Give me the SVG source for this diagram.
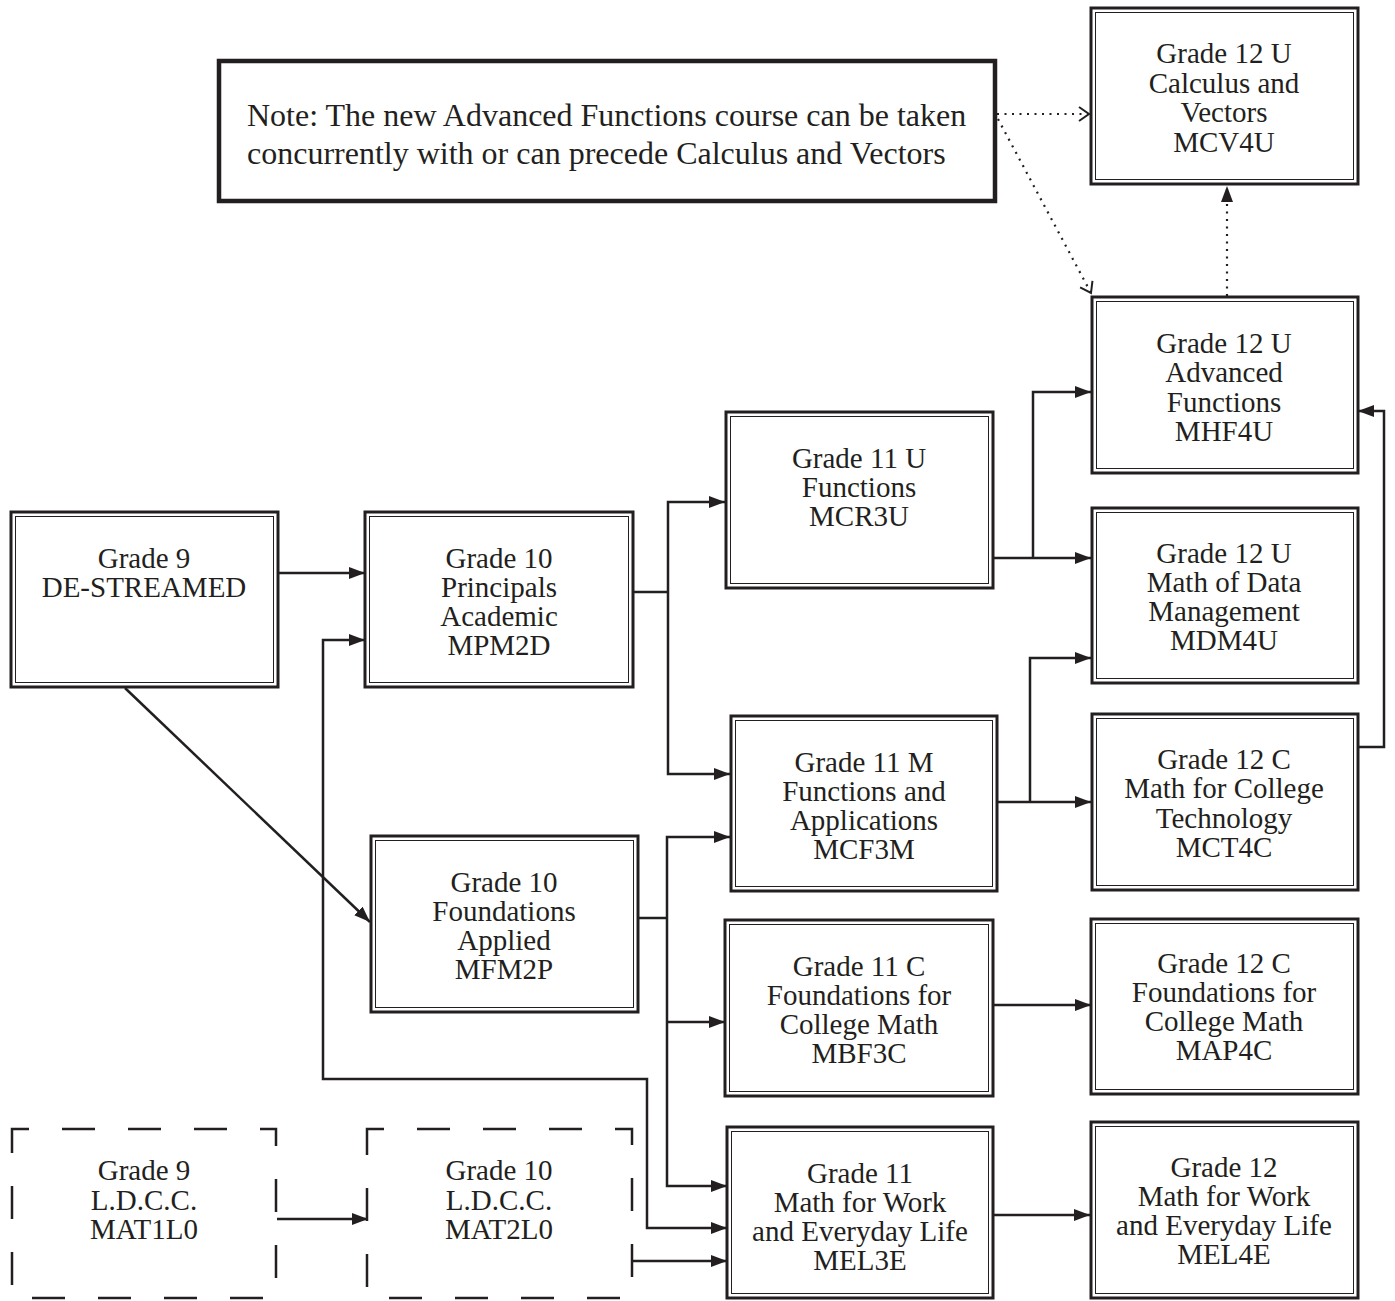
<svg xmlns="http://www.w3.org/2000/svg" width="1395" height="1301" viewBox="0 0 1395 1301">
<style>
.o{fill:#fff;stroke:#231f20;stroke-width:3}
.i{fill:none;stroke:#231f20;stroke-width:1}
.d{fill:#fff;stroke:#231f20;stroke-width:2.5;stroke-dasharray:33 33;stroke-dashoffset:16}
.n{fill:#fff;stroke:#231f20;stroke-width:4.5}
text{font-family:"Liberation Serif","Times New Roman",serif;font-size:29px;fill:#231f20;text-anchor:middle}
.note{text-anchor:start;font-size:32px}
.c{fill:none;stroke:#231f20;stroke-width:2.5}
.dot{fill:none;stroke:#231f20;stroke-width:2.2;stroke-dasharray:2 5.5}
</style>
<defs>
<marker id="a" markerUnits="userSpaceOnUse" markerWidth="17" markerHeight="13" refX="16" refY="6" orient="auto-start-reverse"><path d="M0,0 L16,6 L0,12 z" fill="#231f20"/></marker>
<marker id="v" markerUnits="userSpaceOnUse" markerWidth="14" markerHeight="18" refX="11" refY="8" orient="auto"><path d="M1,1 L11,8 L1,15" fill="none" stroke="#231f20" stroke-width="2"/></marker>
</defs>

<g id="connectors">
<path class="c" d="M278,573 H365" marker-end="url(#a)"/>
<path class="c" d="M125,688 L370,922" marker-end="url(#a)"/>
<path class="c" d="M365,640 H323 V1079 H647 V1228 H727" marker-start="url(#a)" marker-end="url(#a)"/>
<path class="c" d="M633,592 H668"/>
<path class="c" d="M725,502 H668 V774 H730" marker-start="url(#a)" marker-end="url(#a)"/>
<path class="c" d="M638,918 H667"/>
<path class="c" d="M730,837 H667 V1186 H727" marker-start="url(#a)" marker-end="url(#a)"/>
<path class="c" d="M667,1022 H725" marker-end="url(#a)"/>
<path class="c" d="M993,558 H1091" marker-end="url(#a)"/>
<path class="c" d="M1033,558 V392 H1091" marker-end="url(#a)"/>
<path class="c" d="M997,802 H1091" marker-end="url(#a)"/>
<path class="c" d="M1030,802 V658 H1091" marker-end="url(#a)"/>
<path class="c" d="M1358,747 H1384 V411 H1358" marker-end="url(#a)"/>
<path class="c" d="M993,1005 H1091" marker-end="url(#a)"/>
<path class="c" d="M994,1215 H1090" marker-end="url(#a)"/>
<path class="c" d="M277,1219 H368" marker-end="url(#a)"/>
<path class="c" d="M633,1261 H727" marker-end="url(#a)"/>
<path class="dot" d="M997,114 H1089" marker-end="url(#v)"/>
<path class="dot" d="M998,119 L1091,293" marker-end="url(#v)"/>
<path class="dot" d="M1227,296 V186" marker-end="url(#a)"/>
</g>

<g id="note">
<rect class="n" x="219" y="61" width="776" height="140"/>
<text class="note" x="247" y="126">Note: The new Advanced Functions course can be taken</text>
<text class="note" x="247" y="164">concurrently with or can precede Calculus and Vectors</text>
</g>

<g id="mcv4u">
<rect class="o" x="1091" y="8" width="267" height="176"/>
<rect class="i" x="1095.5" y="12.5" width="258" height="167"/>
<text x="1224" y="63">Grade 12 U</text><text x="1224" y="93">Calculus and</text><text x="1224" y="122">Vectors</text><text x="1224" y="152">MCV4U</text>
</g>

<g id="mhf4u">
<rect class="o" x="1092" y="297" width="266" height="176"/>
<rect class="i" x="1096.5" y="301.5" width="257" height="167"/>
<text x="1224" y="353">Grade 12 U</text><text x="1224" y="382">Advanced</text><text x="1224" y="412">Functions</text><text x="1224" y="441">MHF4U</text>
</g>

<g id="mcr3u">
<rect class="o" x="726" y="412" width="267" height="176"/>
<rect class="i" x="730.5" y="416.5" width="258" height="167"/>
<text x="859" y="468">Grade 11 U</text><text x="859" y="497">Functions</text><text x="859" y="526">MCR3U</text>
</g>

<g id="mdm4u">
<rect class="o" x="1092" y="508" width="266" height="175"/>
<rect class="i" x="1096.5" y="512.5" width="257" height="166"/>
<text x="1224" y="563">Grade 12 U</text><text x="1224" y="592">Math of Data</text><text x="1224" y="621">Management</text><text x="1224" y="650">MDM4U</text>
</g>

<g id="grade9">
<rect class="o" x="11" y="512" width="267" height="175"/>
<rect class="i" x="15.5" y="516.5" width="258" height="166"/>
<text x="144" y="568">Grade 9</text><text x="144" y="597">DE-STREAMED</text>
</g>

<g id="mpm2d">
<rect class="o" x="365" y="512" width="268" height="175"/>
<rect class="i" x="369.5" y="516.5" width="259" height="166"/>
<text x="499" y="568">Grade 10</text><text x="499" y="597">Principals</text><text x="499" y="626">Academic</text><text x="499" y="655">MPM2D</text>
</g>

<g id="mcf3m">
<rect class="o" x="731" y="716" width="266" height="175"/>
<rect class="i" x="735.5" y="720.5" width="257" height="166"/>
<text x="864" y="772">Grade 11 M</text><text x="864" y="801">Functions and</text><text x="864" y="830">Applications</text><text x="864" y="859">MCF3M</text>
</g>

<g id="mct4c">
<rect class="o" x="1092" y="714" width="266" height="176"/>
<rect class="i" x="1096.5" y="718.5" width="257" height="167"/>
<text x="1224" y="769">Grade 12 C</text><text x="1224" y="798">Math for College</text><text x="1224" y="828">Technology</text><text x="1224" y="857">MCT4C</text>
</g>

<g id="mfm2p">
<rect class="o" x="371" y="836" width="267" height="176"/>
<rect class="i" x="375.5" y="840.5" width="258" height="167"/>
<text x="504" y="892">Grade 10</text><text x="504" y="921">Foundations</text><text x="504" y="950">Applied</text><text x="504" y="979">MFM2P</text>
</g>

<g id="mbf3c">
<rect class="o" x="725" y="920" width="268" height="176"/>
<rect class="i" x="729.5" y="924.5" width="259" height="167"/>
<text x="859" y="976">Grade 11 C</text><text x="859" y="1005">Foundations for</text><text x="859" y="1034">College Math</text><text x="859" y="1063">MBF3C</text>
</g>

<g id="map4c">
<rect class="o" x="1091" y="919" width="267" height="175"/>
<rect class="i" x="1095.5" y="923.5" width="258" height="166"/>
<text x="1224" y="973">Grade 12 C</text><text x="1224" y="1002">Foundations for</text><text x="1224" y="1031">College Math</text><text x="1224" y="1060">MAP4C</text>
</g>

<g id="mel3e">
<rect class="o" x="727" y="1127" width="266" height="171"/>
<rect class="i" x="731.5" y="1131.5" width="257" height="162"/>
<text x="860" y="1183">Grade 11</text><text x="860" y="1212">Math for Work</text><text x="860" y="1241">and Everyday Life</text><text x="860" y="1270">MEL3E</text>
</g>

<g id="mel4e">
<rect class="o" x="1091" y="1122" width="267" height="176"/>
<rect class="i" x="1095.5" y="1126.5" width="258" height="167"/>
<text x="1224" y="1177">Grade 12</text><text x="1224" y="1206">Math for Work</text><text x="1224" y="1235">and Everyday Life</text><text x="1224" y="1264">MEL4E</text>
</g>

<g id="mat1l0">
<rect class="d" x="12" y="1129" width="264" height="169"/>
<text x="144" y="1180">Grade 9</text><text x="144" y="1210">L.D.C.C.</text><text x="144" y="1239">MAT1L0</text>
</g>

<g id="mat2l0">
<rect class="d" x="367" y="1129" width="265" height="169"/>
<text x="499" y="1180">Grade 10</text><text x="499" y="1210">L.D.C.C.</text><text x="499" y="1239">MAT2L0</text>
</g>
</svg>
